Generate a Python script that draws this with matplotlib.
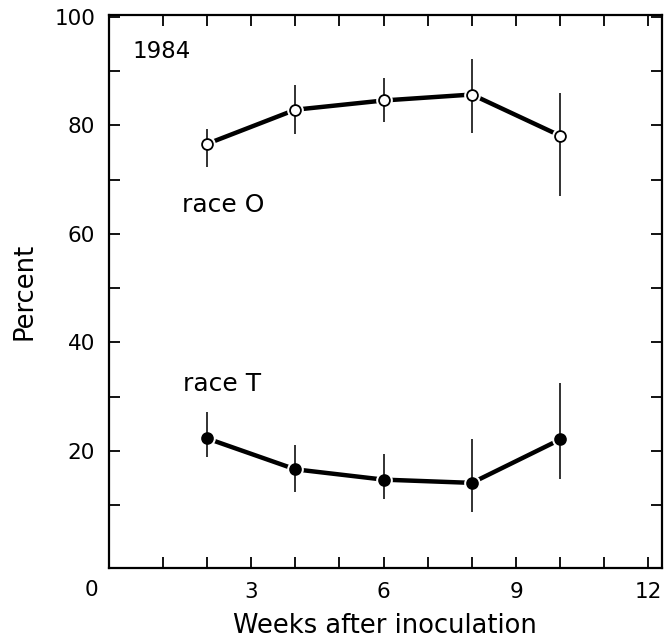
import numpy as np
import matplotlib
matplotlib.use("Agg")
import matplotlib.pyplot as plt
import matplotlib.transforms as mtransforms

# weeks after inoculation
weeks = [2, 4, 6, 8, 10]

# race O (open circles), with error bar ends
race_o = [76.6, 82.9, 84.6, 85.7, 78.1]
race_o_hi = [79.4, 87.4, 88.8, 92.2, 85.9]
race_o_lo = [72.3, 78.4, 80.7, 78.6, 67.0]

# race T (filled circles)
race_t = [22.3, 16.6, 14.7, 14.1, 22.1]
race_t_hi = [27.2, 21.1, 19.4, 22.1, 32.6]
race_t_lo = [18.9, 12.4, 11.1, 8.7, 14.9]

xticks_lab = [3, 6, 9, 12]
yticks_lab = [20, 40, 60, 80, 100]

plt.rcParams['font.family'] = ['DejaVu Sans']

fig = plt.figure(figsize=(6.65, 6.43), dpi=100)
ax = fig.add_axes([0.164, 0.117, 0.831, 0.860])

def draw(y, hi, lo, face):
    y = np.array(y)
    err = [y - np.array(lo), np.array(hi) - y]
    ax.plot(weeks, y, color='black', lw=3.2, zorder=2, solid_capstyle='butt')
    # small white halo where the line meets the marker
    ax.plot(weeks, y, ls='none', marker='o', ms=11, mfc='white', mec='white', zorder=3)
    ax.errorbar(weeks, y, yerr=err, fmt='none', ecolor='#222222', elinewidth=1.3,
                capsize=0, zorder=4)
    ax.plot(weeks, y, ls='none', marker='o', ms=7.8, mfc=face, mec='black', mew=1.3, zorder=5)

draw(race_o, race_o_hi, race_o_lo, 'white')
draw(race_t, race_t_hi, race_t_lo, 'black')

ax.set_xlim(-0.22, 12.3)
ax.set_ylim(-1.55, 100.4)

ax.set_xticks(range(1, 13))
ax.set_xticklabels([str(t) if t in xticks_lab else '' for t in range(1, 13)])
ax.set_yticks(range(10, 101, 10))
ax.set_yticklabels([str(t) if t in yticks_lab else '' for t in range(10, 101, 10)])

ax.tick_params(direction='in', length=8, width=1.3, top=True, right=True,
               labelsize=15.5, pad=10)
for s in ax.spines.values():
    s.set_linewidth(1.6)

# origin label sits at the corner
trans = mtransforms.blended_transform_factory(ax.transData, fig.transFigure)
ax.text(-0.63, 1 - 590 / 643, '0', transform=trans, ha='center', va='center', fontsize=15.5)

ax.set_xlabel('Weeks after inoculation', fontsize=18.5, labelpad=8)
ax.set_ylabel('Percent', fontsize=18.5, labelpad=12)

ax.text(0.3, 93.6, '1984', fontsize=16.5, ha='left', va='center')
ax.text(1.43, 65.3, 'race O', fontsize=18, ha='left', va='center')
ax.text(1.45, 32.3, 'race T', fontsize=18, ha='left', va='center')

fig.savefig('out.png', dpi=100)
